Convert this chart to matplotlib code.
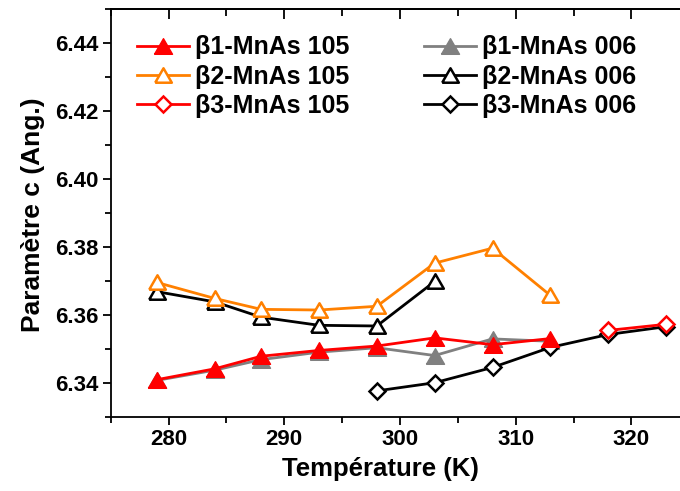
import matplotlib
matplotlib.use("Agg")
import matplotlib.pyplot as plt
from matplotlib.ticker import MultipleLocator

plt.rcParams["font.family"] = ["Liberation Sans", "DejaVu Sans"]
plt.rcParams["font.weight"] = "bold"

# beta1-MnAs (filled triangles)
t_b1_105 = [279, 284, 288, 293, 298, 303, 308, 313]
c_b1_105 = [6.3409, 6.3441, 6.3478, 6.3495, 6.3508, 6.3532, 6.3512, 6.3530]
t_b1_006 = [279, 284, 288, 293, 298, 303, 308, 313]
c_b1_006 = [6.3407, 6.3437, 6.3468, 6.3490, 6.3503, 6.3480, 6.3529, 6.3522]

# beta2-MnAs (open triangles)
t_b2_105 = [279, 284, 288, 293, 298, 303, 308, 313]
c_b2_105 = [6.3695, 6.3648, 6.3616, 6.3614, 6.3625, 6.3752, 6.3796, 6.3657]
t_b2_006 = [279, 284, 288, 293, 298, 303]
c_b2_006 = [6.3668, 6.3638, 6.3593, 6.3569, 6.3567, 6.3698]

# beta3-MnAs (open diamonds)
t_b3_105 = [318, 323]
c_b3_105 = [6.3554, 6.3572]
t_b3_006 = [298, 303, 308, 313, 318, 323]
c_b3_006 = [6.3376, 6.3400, 6.3445, 6.3504, 6.3542, 6.3565]

RED = "#ff0000"
ORANGE = "#ff8000"
GRAY = "#808080"

# equilateral-ish triangle, centred on its bounding box
TRI = [(-1, -0.866), (1, -0.866), (0, 0.866), (-1, -0.866)]

W, H = 680, 491
left, right, bottom, top = 110.7, 689.2, 416.7, 9.0
fig = plt.figure(figsize=(W / 100, H / 100), dpi=100)
ax = fig.add_axes([left / W, 1 - bottom / H, (right - left) / W, (bottom - top) / H])

lw = 2.0
mew = 1.8
h_b1_006, = ax.plot(t_b1_006, c_b1_006, color=GRAY, lw=lw, marker=TRI, ms=13,
                    mfc=GRAY, mec=GRAY, mew=1, zorder=2, label="β1-MnAs 006")
h_b1_105, = ax.plot(t_b1_105, c_b1_105, color=RED, lw=lw, marker=TRI, ms=13,
                    mfc=RED, mec=RED, mew=1, zorder=3, label="β1-MnAs 105")
h_b2_006, = ax.plot(t_b2_006, c_b2_006, color="black", lw=lw, marker=TRI, ms=12,
                    mfc="white", mec="black", mew=mew, zorder=2, label="β2-MnAs 006")
h_b2_105, = ax.plot(t_b2_105, c_b2_105, color=ORANGE, lw=lw, marker=TRI, ms=12,
                    mfc="white", mec=ORANGE, mew=mew, zorder=3, label="β2-MnAs 105")
h_b3_006, = ax.plot(t_b3_006, c_b3_006, color="black", lw=lw, marker="D", ms=8,
                    mfc="white", mec="black", mew=mew, zorder=2, label="β3-MnAs 006")
h_b3_105, = ax.plot(t_b3_105, c_b3_105, color=RED, lw=lw, marker="D", ms=8,
                    mfc="white", mec=RED, mew=mew, zorder=3, label="β3-MnAs 105")

ax.set_xlim(275, 325)
ax.set_ylim(6.33, 6.45)
ax.xaxis.set_major_locator(MultipleLocator(10))
ax.xaxis.set_minor_locator(MultipleLocator(5))
ax.yaxis.set_major_locator(MultipleLocator(0.02))
ax.yaxis.set_minor_locator(MultipleLocator(0.01))
ax.yaxis.set_major_formatter(plt.FormatStrFormatter("%.2f"))

for side in ax.spines:
    ax.spines[side].set_linewidth(1.3)
ax.tick_params(which="both", direction="out", width=1.3, labelsize=16, pad=3)
ax.tick_params(which="major", length=6)
ax.tick_params(which="minor", length=4)

sec = ax.secondary_xaxis("top")
sec.xaxis.set_major_locator(MultipleLocator(10))
sec.xaxis.set_minor_locator(MultipleLocator(5))
sec.tick_params(which="both", direction="in", width=1.3, labeltop=False)
sec.tick_params(which="major", length=7)
sec.tick_params(which="minor", length=5)
sec.spines["top"].set_linewidth(1.3)

ax.set_xlabel("Température (K)", fontsize=18.5, fontweight="bold", va="top")
ax.xaxis.set_label_coords(0.4666, -0.098)
ax.set_ylabel("Paramètre c (Ang.)", fontsize=19, fontweight="bold")
ax.yaxis.set_label_coords(-0.113, 0.495)

handles = [h_b1_105, h_b2_105, h_b3_105, h_b1_006, h_b2_006, h_b3_006]
ax.legend(handles=handles, labels=[h.get_label() for h in handles], ncol=2,
          loc="upper left", bbox_to_anchor=(0.0455, 0.9355), frameon=False,
          fontsize=18, handlelength=2.08, handletextpad=0.24, columnspacing=3.0,
          labelspacing=0.21, borderpad=0, borderaxespad=0)

fig.savefig("out.png", dpi=100)
